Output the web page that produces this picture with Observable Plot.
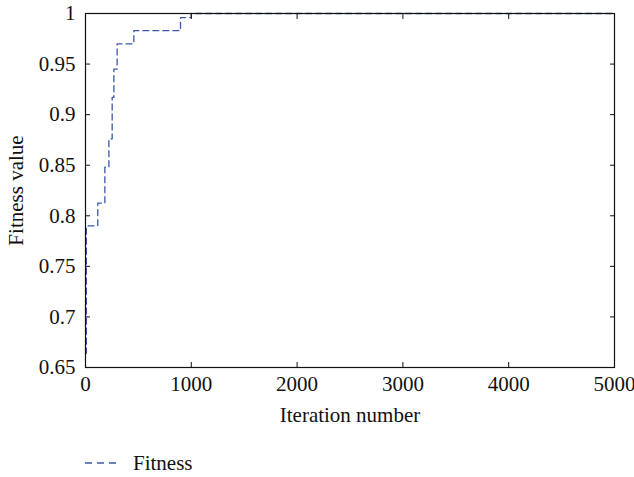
<!DOCTYPE html>
<html>
<head>
<meta charset="utf-8">
<script src="https://cdn.jsdelivr.net/npm/d3@7"></script>
<script src="https://cdn.jsdelivr.net/npm/@observablehq/plot@0.6"></script>
<style>
  html, body { margin: 0; padding: 0; background: white; }
  #chart { width: 634px; height: 477px; position: relative; font-family: "Liberation Serif", serif; }
  #legend { position: absolute; left: 85px; top: 451px; display: flex; align-items: center; font-size: 21px; color: #111; line-height: 24px; }
  #legend svg { margin-right: 13px; }
</style>
</head>
<body>
<div id="chart"></div>
<script>
const iterations = [0, 8, 116, 183, 221, 252, 268, 299, 457, 898, 999, 5000];
const fitness = [0.664, 0.79, 0.8125, 0.848, 0.876, 0.917, 0.945, 0.97, 0.983, 0.996, 1, 1];
const xTicks = [0, 1000, 2000, 3000, 4000, 5000];
const yTicks = [0.65, 0.7, 0.75, 0.8, 0.85, 0.9, 0.95, 1];
const seriesName = "Fitness";
const lineColor = "#3b58a8";

const data = iterations.map((x, i) => ({x, y: fitness[i]}));

const plot = Plot.plot({
  width: 634,
  height: 440,
  marginLeft: 85,
  marginRight: 20,
  marginTop: 13,
  marginBottom: 73,
  style: {fontFamily: "Liberation Serif, serif", fontSize: "21px", background: "white", color: "#111"},
  x: {domain: [0, 5000]},
  y: {domain: [0.65, 1]},
  marks: [
    Plot.line(data, {x: "x", y: "y", curve: "step-after", stroke: lineColor, strokeWidth: 1.3, strokeDasharray: "6,4"}),
    Plot.frame({stroke: "#111", strokeWidth: 1.2}),
    Plot.axisX({ticks: xTicks, tickSize: -5, tickPadding: 14, fontSize: 21, tickFormat: d => String(d), label: "Iteration number", labelAnchor: "center", labelArrow: "none", labelOffset: 54, stroke: "#111"}),
    Plot.axisX({anchor: "top", ticks: xTicks, tickSize: -5, tickFormat: () => "", label: null, stroke: "#111"}),
    Plot.axisY({ticks: yTicks, tickSize: -5, tickPadding: 15, fontSize: 21, tickFormat: d => String(d), label: "Fitness value", labelAnchor: "center", labelArrow: "none", labelOffset: 77, stroke: "#111"}),
    Plot.axisY({anchor: "right", ticks: yTicks, tickSize: -5, tickFormat: () => "", label: null, stroke: "#111"})
  ]
});

const chart = document.getElementById("chart");
chart.appendChild(plot);

const legend = document.createElement("div");
legend.id = "legend";
legend.innerHTML = `<svg width="35" height="4"><line x1="0" y1="2" x2="35" y2="2" stroke="${lineColor}" stroke-width="1.5" stroke-dasharray="7,5"/></svg><span>${seriesName}</span>`;
chart.appendChild(legend);
</script>
</body>
</html>
